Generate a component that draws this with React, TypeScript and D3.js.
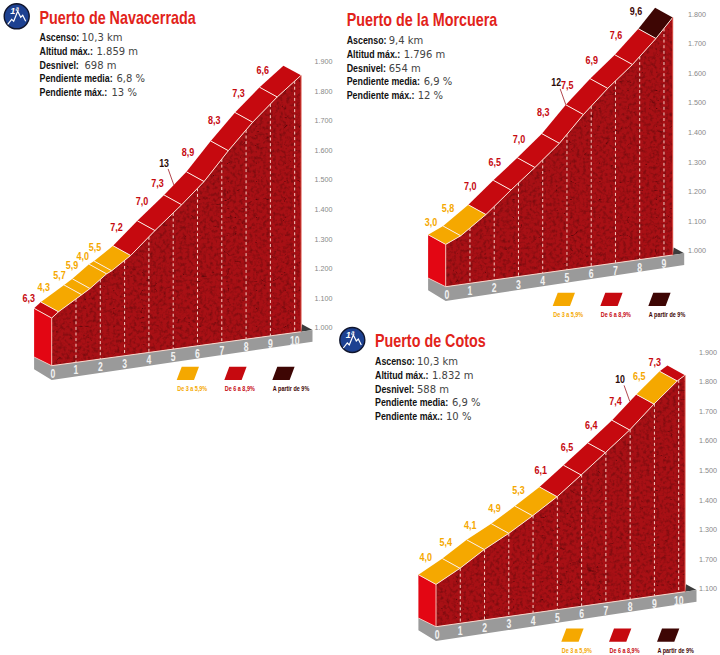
import React from "react";
import * as d3 from "d3";

// ---------- data ----------
const navKm = [0, 0.28, 1.235, 1.576, 2.26, 2.47, 3.25, 4.25, 5.35, 6.27, 7.27, 8.27, 9.28, 10.26];
const navAlt = [1161, 1179, 1226, 1243, 1285, 1293, 1336, 1409, 1484, 1552, 1645, 1730, 1804, 1866];
const navGrad = ["6,3", "4,3", "5,7", "5,9", "4,0", "5,5", "7,2", "7,0", "7,3", "8,9", "8,3", "7,3", "6,6"];
const navLevel = [1, 0, 0, 0, 0, 0, 1, 1, 1, 1, 1, 1, 1];
const navTicks = ["1.000", "1.100", "1.200", "1.300", "1.400", "1.500", "1.600", "1.700", "1.800", "1.900"];
const navInfo = ["10,3 km", "1.859 m", "698 m", "6,8 %", "13 %"];

const morKm = [0, 0.62, 1.66, 2.69, 3.68, 4.69, 5.68, 6.68, 7.7, 8.67, 9.36];
const morAlt = [1143, 1165, 1225, 1296, 1361, 1431, 1517, 1594, 1663, 1740, 1803];
const morGrad = ["3,0", "5,8", "7,0", "6,5", "7,0", "8,3", "7,5", "6,9", "7,6", "9,6"];
const morLevel = [0, 0, 1, 1, 1, 1, 1, 1, 1, 2];
const morTicks = ["1.000", "1.100", "1.200", "1.300", "1.400", "1.500", "1.600", "1.700", "1.800"];
const morInfo = ["9,4 km", "1.796 m", "654 m", "6,9 %", "12 %"];

const cotKm = [0, 0.99, 1.99, 3.0, 3.98, 4.99, 5.98, 6.98, 7.98, 8.98, 9.94, 10.26];
const cotAlt = [1243, 1286, 1338, 1381, 1429, 1482, 1544, 1608, 1673, 1749, 1816, 1832];
const cotGrad = ["4,0", "5,4", "4,1", "4,9", "5,3", "6,1", "6,5", "6,4", "7,4", "6,5", "7,3"];
const cotLevel = [0, 0, 0, 0, 0, 1, 1, 1, 1, 0, 1];
const cotTicks = ["1.100", "1.700", "1.300", "1.400", "1.500", "1.600", "1.700", "1.800", "1.900"];
const cotInfo = ["10,3 km", "1.832 m", "588 m", "6,9 %", "10 %"];

const infoLabels = ["Ascenso:", "Altitud máx.:", "Desnivel:", "Pendiente media:", "Pendiente máx.:"];
const legendLabels = ["De 3 a 5,9%", "De 6 a 8,9%", "A partir de 9%"];
const levelColors = ["#f5a800", "#c6090f", "#3e0604"];

const SANS = '"Liberation Sans", sans-serif';
const DEPTH: [number, number] = [-17.6, -9.7];

type Pt = [number, number];
const poly = (pts: Pt[]) => pts.map((p) => p.join(",")).join(" ");

// Bold text squeezed horizontally, since no condensed face is installed.
function T({ x, y, sx = 0.78, size, fill, anchor, children }: { x: number; y: number; sx?: number; size: number; fill: string; anchor?: string; children: React.ReactNode }) {
  return (
    <text transform={`translate(${x},${y}) scale(${sx},1)`} textAnchor={anchor} fontFamily={SANS} fontWeight={700} fontSize={size} fill={fill}>{children}</text>
  );
}

interface PanelProps {
  title: string; titleX: number; titleY: number; infoY: number; infoDx: number[];
  km: number[]; alt: number[]; grad: string[]; level: number[]; ticks: string[]; info: string[];
  xRange: [number, number]; kmEnd: number; baseRange: [number, number]; altBase: number; pxPerStep: number;
  kmMarks: number; tickX: number; tickY0: number;
  peak: string; peakKm: number; legendX: number[]; legendY: number; icon?: Pt;
  labelShift: number; labelNudge: Record<number, Pt>;
}

function Icon({ at }: { at: Pt }) {
  const line = d3.line()([[-9, 8], [-5, 3], [-3, 5], [1, -5], [4, 1], [6, -1], [9, 5]] as Pt[]) as string;
  return (
    <g transform={`translate(${at[0]},${at[1]})`}>
      <circle r={12.5} fill="#1d4191" stroke="#10152c" strokeWidth={1.4} />
      <text x={-6.5} y={-2} fontFamily={SANS} fontWeight={700} fontStyle="italic" fontSize={9} fill="#fff">1ª</text>
      <path d={line} fill="none" stroke="#fff" strokeWidth={1.2} />
    </g>
  );
}

function Panel(p: PanelProps) {
  const x = d3.scaleLinear().domain([0, p.kmEnd]).range(p.xRange);
  const base = d3.scaleLinear().domain([0, p.kmEnd]).range(p.baseRange);
  const h = d3.scaleLinear().domain([p.altBase, p.altBase + 100]).range([0, p.pxPerStep]);
  const near = (k: number, a: number): Pt => [x(k), base(k) - h(a)];
  const nearPts: Pt[] = p.km.map((k, i) => near(k, p.alt[i]));
  const far = (q: Pt): Pt => [q[0] + DEPTH[0], q[1] + DEPTH[1]];
  const altAt = d3.scaleLinear().domain(p.km).range(p.alt);
  const x0 = x(0), xE = x(p.kmEnd), b0 = base(0), bE = base(p.kmEnd);
  const rock: Pt[] = [...nearPts, [xE, bE], [x0, b0]];
  const wall: Pt[] = [nearPts[0], far(nearPts[0]), [x0 + DEPTH[0], b0 + DEPTH[1] + 1], [x0, b0]];
  const strip: Pt[] = [[x0 + DEPTH[0], b0 + DEPTH[1] + 1], [x0, b0], [xE, bE], [xE + 11.5, bE - 1.7], [xE + 11.5, bE + 10], [x0, b0 + 14.3], [x0 + DEPTH[0], b0 + 3.5]];
  const back: Pt[] = [[xE + 1, bE - 7.5], [xE + 11.5, bE - 1.7], [xE, bE]];
  const peakNear = near(p.peakKm, altAt(p.peakKm));
  const peakEnd = far(peakNear);
  const tickStep = p.pxPerStep;
  return (
    <g>
      {p.icon && <Icon at={p.icon} />}
      <T x={p.titleX} y={p.titleY} sx={0.775} size={18.5} fill="#e2231a">{p.title}</T>
      {infoLabels.map((l, i) => (
        <g key={l}>
          <T x={p.titleX} y={p.infoY + i * 13.8} sx={0.79} size={11.2} fill="#111">{l}</T>
          <text x={p.titleX + p.infoDx[i]} y={p.infoY + i * 13.8} fontFamily='"DejaVu Sans", sans-serif' fontSize={10} fill="#444">{p.info[i]}</text>
        </g>
      ))}
      {p.ticks.map((t, i) => (
        <text key={i} x={p.tickX} y={p.tickY0 - i * tickStep + 2.6} fontFamily={SANS} fontSize={7.2} fill="#888">{t}</text>
      ))}
      <polygon points={poly(back)} fill="#3c3c3c" />
      <polygon points={poly(strip)} fill="#9a9a9a" />
      <polygon points={poly(wall)} fill="#e30613" />
      <polygon points={poly(rock)} fill="#a81015" />
      <polygon points={poly(rock)} filter="url(#cracks)" />
      <polygon points={poly(rock)} filter="url(#mottle)" />
      {d3.range(1, p.kmMarks + 1).map((k) => {
        const t = near(k, altAt(k));
        return <line key={k} x1={t[0]} x2={t[0]} y1={t[1]} y2={base(k)} stroke="#f7cfc4" strokeWidth={1} strokeDasharray="3 2.6" />;
      })}
      {p.grad.map((g, i) => {
        const a = nearPts[i], b = nearPts[i + 1];
        const mid: Pt = far([(a[0] + b[0]) / 2, (a[1] + b[1]) / 2]);
        const n = p.labelNudge[i] || [0, 0];
        return (
          <g key={i}>
            <polygon points={poly([a, b, far(b), far(a)])} fill={levelColors[p.level[i]]} />
            <T x={mid[0] - 8.7 + p.labelShift + n[0]} y={mid[1] - 2.8 + n[1]} sx={0.9} size={10} anchor="middle" fill={levelColors[p.level[i]]}>{g}</T>
          </g>
        );
      })}
      {nearPts.slice(1, -1).map((q, i) => (
        <line key={i} x1={q[0]} y1={q[1]} x2={far(q)[0]} y2={far(q)[1]} stroke="#fbeee6" strokeWidth={1} />
      ))}
      <polyline points={poly(nearPts)} fill="none" stroke="#fbe3d8" strokeWidth={1} />
      <line x1={nearPts[0][0]} y1={nearPts[0][1]} x2={far(nearPts[0])[0]} y2={far(nearPts[0])[1]} stroke="#fbe3d8" strokeWidth={1} />
      <line x1={x0} x2={x0} y1={nearPts[0][1]} y2={b0} stroke="#f7b9ae" strokeWidth={1} />
      <line x1={x0} x2={xE} y1={b0} y2={bE} stroke="#f7d9ce" strokeWidth={1} />
      <line x1={x0} x2={x0 + DEPTH[0]} y1={b0} y2={b0 + DEPTH[1] + 1} stroke="#f3d5cc" strokeWidth={0.8} />
      <line x1={xE} x2={xE} y1={nearPts[nearPts.length - 1][1]} y2={bE} stroke="#d8483f" strokeWidth={1} />
      {d3.range(0, p.kmMarks + 1).map((k) => (
        <T key={k} x={x(k) + (k === 0 ? 1.2 : 0)} y={base(k) + 12} sx={0.72} size={12} anchor="middle" fill="#f2f2f2">{k}</T>
      ))}
      <line x1={peakEnd[0] - 5.7} y1={peakEnd[1] - 16} x2={peakEnd[0]} y2={peakEnd[1]} stroke="#a8323a" strokeWidth={0.9} />
      <T x={peakEnd[0] - 9.7} y={peakEnd[1] - 18.4} sx={0.88} size={10} anchor="middle" fill="#2b0a08">{p.peak}</T>
      {legendLabels.map((l, i) => {
        const lx = p.legendX[i], ly = p.legendY;
        const sw: Pt[] = [[lx, ly + 13.3], [lx + 5, ly], [lx + 22.3, ly], [lx + 17.3, ly + 13.3]];
        return (
          <g key={l}>
            <polygon points={poly(sw)} fill={levelColors[i]} />
            <T x={lx + 0.5} y={ly + 24.3} sx={0.78} size={7} fill={levelColors[i]}>{l}</T>
          </g>
        );
      })}
    </g>
  );
}

export default function App() {
  return (
    <svg width={720} height={655} viewBox="0 0 720 655" style={{ position: "absolute", left: 0, top: 0, background: "#fff" }}>
      <defs>
        <filter id="cracks" x="0" y="0" width="100%" height="100%" colorInterpolationFilters="sRGB">
          <feTurbulence type="turbulence" baseFrequency="0.035 0.055" numOctaves={3} seed={11} result="n" />
          <feColorMatrix in="n" type="matrix" values="0 0 0 0 0.30  0 0 0 0 0.02  0 0 0 0 0.03  0 0 0 -16 0.95" result="d" />
          <feComposite in="d" in2="SourceAlpha" operator="in" />
        </filter>
        <filter id="mottle" x="0" y="0" width="100%" height="100%" colorInterpolationFilters="sRGB">
          <feTurbulence type="fractalNoise" baseFrequency="0.3" numOctaves={2} seed={4} result="n" />
          <feColorMatrix in="n" type="matrix" values="0 0 0 0 0.42  0 0 0 0 0.04  0 0 0 0 0.05  1.8 0 0 0 -0.8" result="d" />
          <feComposite in="d" in2="SourceAlpha" operator="in" />
        </filter>
      </defs>
      <Panel title="Puerto de Navacerrada" titleX={39.5} titleY={23.5} infoY={41} infoDx={[42, 57, 45, 77, 72]}
        km={navKm} alt={navAlt} grad={navGrad} level={navLevel} ticks={navTicks} info={navInfo}
        xRange={[51.7, 301]} kmEnd={10.26} baseRange={[365.7, 331.7]} altBase={1000} pxPerStep={29.6}
        kmMarks={10} tickX={314.5} tickY0={327.7} peak="13" peakKm={5.75}
        labelShift={0} labelNudge={{ 8: [-9, 6], 9: [-2, 2] }}
        legendX={[176.7, 224.3, 272.3]} legendY={366.8} icon={[16.7, 16.3]} />
      <Panel title="Puerto de la Morcuera" titleX={346.7} titleY={26} infoY={44} infoDx={[42, 57, 42, 77, 71]}
        km={morKm} alt={morAlt} grad={morGrad} level={morLevel} ticks={morTicks} info={morInfo}
        xRange={[445.7, 672.7]} kmEnd={9.36} baseRange={[286.7, 255]} altBase={1000} pxPerStep={29.58}
        kmMarks={9} tickX={688} tickY0={250.7} peak="12" peakKm={5.68}
        labelShift={-2} labelNudge={{ 0: [6, -2], 1: [3, -1] }}
        legendX={[552.7, 600.3, 648.3]} legendY={292.7} />
      <Panel title="Puerto de Cotos" titleX={375} titleY={346.5} infoY={365} infoDx={[42, 57, 42, 77, 71]}
        km={cotKm} alt={cotAlt} grad={cotGrad} level={cotLevel} ticks={cotTicks} info={cotInfo}
        xRange={[436, 685]} kmEnd={10.26} baseRange={[626.7, 591.7]} altBase={1100} pxPerStep={29.58}
        kmMarks={10} tickX={699} tickY0={588.7} peak="10" peakKm={8.71}
        labelShift={0} labelNudge={{ 0: [4, -3], 5: [-2, 1] }}
        legendX={[561.3, 609, 657]} legendY={628.4} icon={[352.3, 340]} />
    </svg>
  );
}
